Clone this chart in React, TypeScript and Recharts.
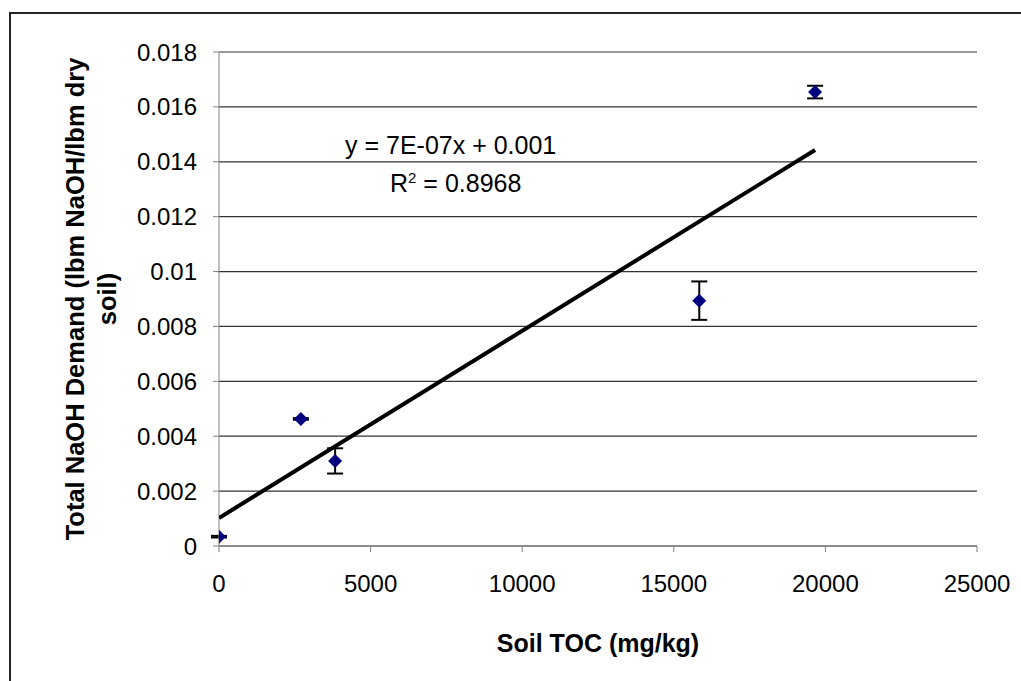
import React from "react";
import {
  ScatterChart,
  Scatter,
  XAxis,
  YAxis,
  CartesianGrid,
  ErrorBar,
  Label,
} from "recharts";

// soil TOC (mg/kg)
const tocValues = [0, 2700, 3830, 15840, 19660];
// total NaOH demand (lbm NaOH / lbm dry soil)
const naohDemand = [0.00034, 0.00463, 0.0031, 0.00894, 0.01654];
const naohError = [0.00003, 0.00003, 0.00046, 0.0007, 0.00023];

// linear trend line end points
const trendX = [0, 19660];
const trendY = [0.00102, 0.01443];

const xTicks = [0, 5000, 10000, 15000, 20000, 25000];
const yTicks = [0, 0.002, 0.004, 0.006, 0.008, 0.01, 0.012, 0.014, 0.016, 0.018];

const FONT = "'Liberation Sans', Arial, sans-serif";

const points = tocValues.map((x, i) => ({ x, y: naohDemand[i], err: naohError[i] }));
const trend = trendX.map((x, i) => ({ x, y: trendY[i] }));

const Diamond = (props: any) => {
  const { cx, cy } = props;
  const r = 7;
  return (
    <polygon
      points={`${cx},${cy - r} ${cx + r},${cy} ${cx},${cy + r} ${cx - r},${cy}`}
      fill="#000080"
    />
  );
};

const YTitle = (props: any) => {
  const { viewBox } = props;
  const cy = viewBox.y + viewBox.height / 2;
  return (
    <g fontFamily={FONT} fontWeight="bold" fontSize={25.5} fill="#000">
      <text x={75} y={cy} transform={`rotate(-90, 75, ${cy})`} textAnchor="middle" dominantBaseline="central">
        Total NaOH Demand (lbm NaOH/lbm dry
      </text>
      <text x={107} y={cy} transform={`rotate(-90, 107, ${cy})`} textAnchor="middle" dominantBaseline="central">
        soil)
      </text>
    </g>
  );
};

export default function App() {
  return (
    <div style={{ position: "relative", width: 1021, height: 681, overflow: "hidden", background: "#fff" }}>
      <style>{"body{margin:0}"}</style>
      <div
        style={{
          position: "absolute",
          left: 9,
          top: 12,
          width: 1100,
          height: 800,
          borderLeft: "2px solid #222",
          borderTop: "2px solid #222",
        }}
      />
      <div style={{ position: "absolute", left: 0, top: 0 }}>
        <ScatterChart width={1021} height={681} margin={{ top: 52, right: 44, bottom: 95, left: 119 }}>
          <CartesianGrid vertical={false} stroke="#333" strokeWidth={1.2} />
          <XAxis
            type="number"
            dataKey="x"
            domain={[0, 25000]}
            ticks={xTicks}
            height={40}
            stroke="#808080"
            tickSize={6}
            tickMargin={23}
            tick={{ fontSize: 24, fill: "#000", fontFamily: FONT }}
            allowDataOverflow
          >
            <Label
              value="Soil TOC (mg/kg)"
              position="bottom"
              offset={48}
              style={{ fontSize: 25, fontWeight: "bold", fill: "#000", fontFamily: FONT }}
            />
          </XAxis>
          <YAxis
            type="number"
            dataKey="y"
            domain={[0, 0.018]}
            ticks={yTicks}
            width={100}
            stroke="#808080"
            tickSize={6}
            tickMargin={16}
            tick={{ fontSize: 24, fill: "#000", fontFamily: FONT }}
            allowDataOverflow
          >
            <Label content={<YTitle />} />
          </YAxis>
          <Scatter
            data={trend}
            line={{ stroke: "#000", strokeWidth: 4 }}
            shape={() => null}
            isAnimationActive={false}
          />
          <Scatter data={points} shape={<Diamond />} isAnimationActive={false}>
            <ErrorBar dataKey="err" direction="y" width={8} stroke="#000" strokeWidth={2} />
          </Scatter>
        </ScatterChart>
      </div>
      <div
        style={{
          position: "absolute",
          left: 345,
          top: 130,
          fontFamily: FONT,
          fontSize: 25,
          color: "#000",
          whiteSpace: "nowrap",
          lineHeight: "30px",
        }}
      >
        y = 7E-07x + 0.001
      </div>
      <div
        style={{
          position: "absolute",
          left: 390,
          top: 168,
          fontFamily: FONT,
          fontSize: 25,
          color: "#000",
          whiteSpace: "nowrap",
          lineHeight: "30px",
        }}
      >
        R<sup style={{ fontSize: 15, verticalAlign: "9px", lineHeight: 0 }}>2</sup> = 0.8968
      </div>
    </div>
  );
}
